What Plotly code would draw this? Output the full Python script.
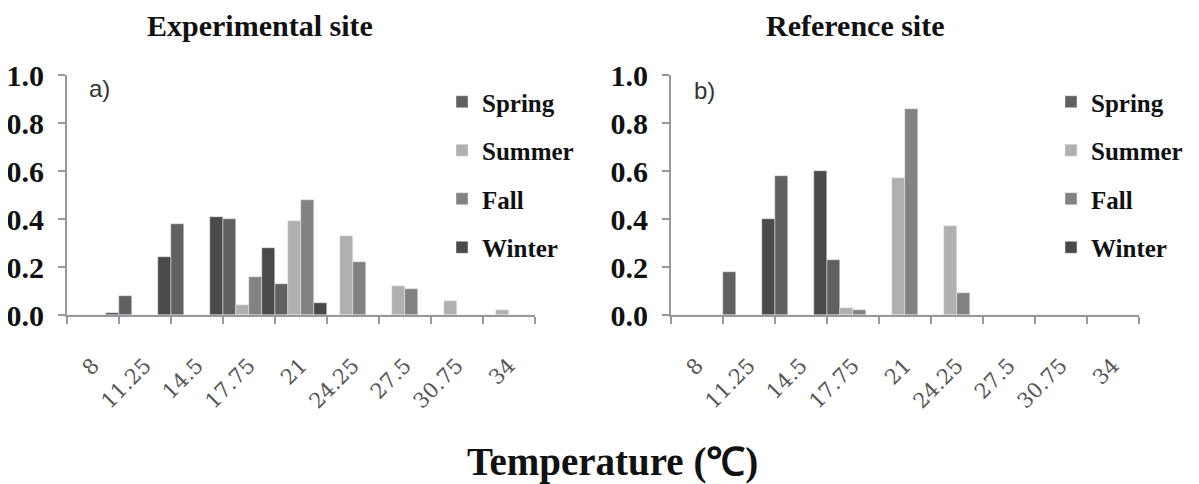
import plotly.graph_objects as go

categories = ["8", "11.25", "14.5", "17.75", "21", "24.25", "27.5", "30.75", "34"]
seasons = ["Spring", "Summer", "Fall", "Winter"]

exp_spring = [0, 0.08, 0.38, 0.40, 0.13, 0, 0, 0, 0]
exp_summer = [0, 0, 0, 0.04, 0.39, 0.33, 0.12, 0.06, 0.02]
exp_fall = [0, 0, 0, 0.16, 0.48, 0.22, 0.11, 0, 0]
exp_winter = [0.01, 0.24, 0.41, 0.28, 0.05, 0, 0, 0, 0]

ref_spring = [0, 0.18, 0.58, 0.23, 0, 0, 0, 0, 0]
ref_summer = [0, 0, 0, 0.03, 0.57, 0.37, 0, 0, 0]
ref_fall = [0, 0, 0, 0.02, 0.86, 0.09, 0, 0, 0]
ref_winter = [0, 0.40, 0.60, 0, 0, 0, 0, 0, 0]

y_ticks = [0, 0.2, 0.4, 0.6, 0.8, 1.0]

colors = {"Spring": "#606060", "Summer": "#b0b0b0", "Fall": "#828282", "Winter": "#4a4a4a"}

# page body has an 8px margin; figure sized to fill the rest of the window
OFF = 8
W, H = 1199 - OFF, 484 - OFF
fig = go.Figure()

exp_data = [exp_spring, exp_summer, exp_fall, exp_winter]
ref_data = [ref_spring, ref_summer, ref_fall, ref_winter]

for s, vals in zip(seasons, exp_data):
    fig.add_trace(go.Bar(x=categories, y=vals, name=s, marker_color=colors[s],
                         xaxis="x", yaxis="y", legend="legend", legendgroup="a" + s))
for s, vals in zip(seasons, ref_data):
    fig.add_trace(go.Bar(x=categories, y=vals, name=s, marker_color=colors[s],
                         xaxis="x2", yaxis="y2", legend="legend2", legendgroup="b" + s))

def px_x(p):
    return (p - OFF) / W

def px_y(p):
    return 1 - (p - OFF) / H

xaxis_common = dict(
    type="category", tickson="boundaries", range=[-0.5, 8.5], automargin=False,
    showline=True, linecolor="#999999", linewidth=2,
    ticks="outside", ticklen=7, tickcolor="#999999", tickwidth=2,
    tickangle=-45, ticklabelstandoff=28,
    tickfont=dict(family="DejaVu Serif", size=21, color="#555555"),
    showgrid=False, zeroline=False, fixedrange=True,
)
yaxis_common = dict(
    range=[0, 1], tickvals=y_ticks, tickformat=".1f", automargin=False,
    showline=True, linecolor="#999999", linewidth=2,
    ticks="outside", ticklen=7, tickcolor="#999999", tickwidth=2,
    ticklabelstandoff=8,
    tickfont=dict(family="Liberation Serif", size=30, color="#111111", weight="bold"),
    showgrid=False, zeroline=False, fixedrange=True,
)

legend_common = dict(
    font=dict(family="Liberation Serif", size=25, color="#111111", weight="bold"),
    bgcolor="rgba(0,0,0,0)", tracegroupgap=13, traceorder="grouped",
    xanchor="left", yanchor="top",
)

fig.update_layout(
    width=W, height=H,
    margin=dict(l=0, r=0, t=0, b=0),
    paper_bgcolor="white", plot_bgcolor="white",
    barmode="group", bargap=0, bargroupgap=0,
    showlegend=True,
    xaxis=dict(domain=[px_x(67), px_x(535)], anchor="y", **xaxis_common),
    yaxis=dict(domain=[px_y(315), px_y(75)], anchor="x", **yaxis_common),
    xaxis2=dict(domain=[px_x(671), px_x(1139)], anchor="y2", **xaxis_common),
    yaxis2=dict(domain=[px_y(315), px_y(75)], anchor="x2", **yaxis_common),
    legend=dict(x=px_x(442), y=px_y(79), **legend_common),
    legend2=dict(x=px_x(1051), y=px_y(79), **legend_common),
    annotations=[
        dict(text="<b>Experimental site</b>", x=px_x(260), y=px_y(26), xref="paper", yref="paper",
             xanchor="center", yanchor="middle",
             showarrow=False, font=dict(family="Liberation Serif", size=30, color="#111111")),
        dict(text="<b>Reference site</b>", x=px_x(855), y=px_y(26), xref="paper", yref="paper",
             xanchor="center", yanchor="middle",
             showarrow=False, font=dict(family="Liberation Serif", size=30, color="#111111")),
        dict(text="a)", x=px_x(87), y=px_y(88), xref="paper", yref="paper",
             xanchor="left", yanchor="middle",
             showarrow=False, font=dict(family="Liberation Sans", size=24, color="#333333")),
        dict(text="b)", x=px_x(692), y=px_y(90), xref="paper", yref="paper",
             xanchor="left", yanchor="middle",
             showarrow=False, font=dict(family="Liberation Sans", size=24, color="#333333")),
        dict(text="<b>Temperature (℃)</b>", x=px_x(612), y=px_y(462), xref="paper", yref="paper",
             xanchor="center", yanchor="middle",
             showarrow=False, font=dict(family="Liberation Serif", size=39, color="#111111")),
    ],
)

fig.write_html("out.html")
